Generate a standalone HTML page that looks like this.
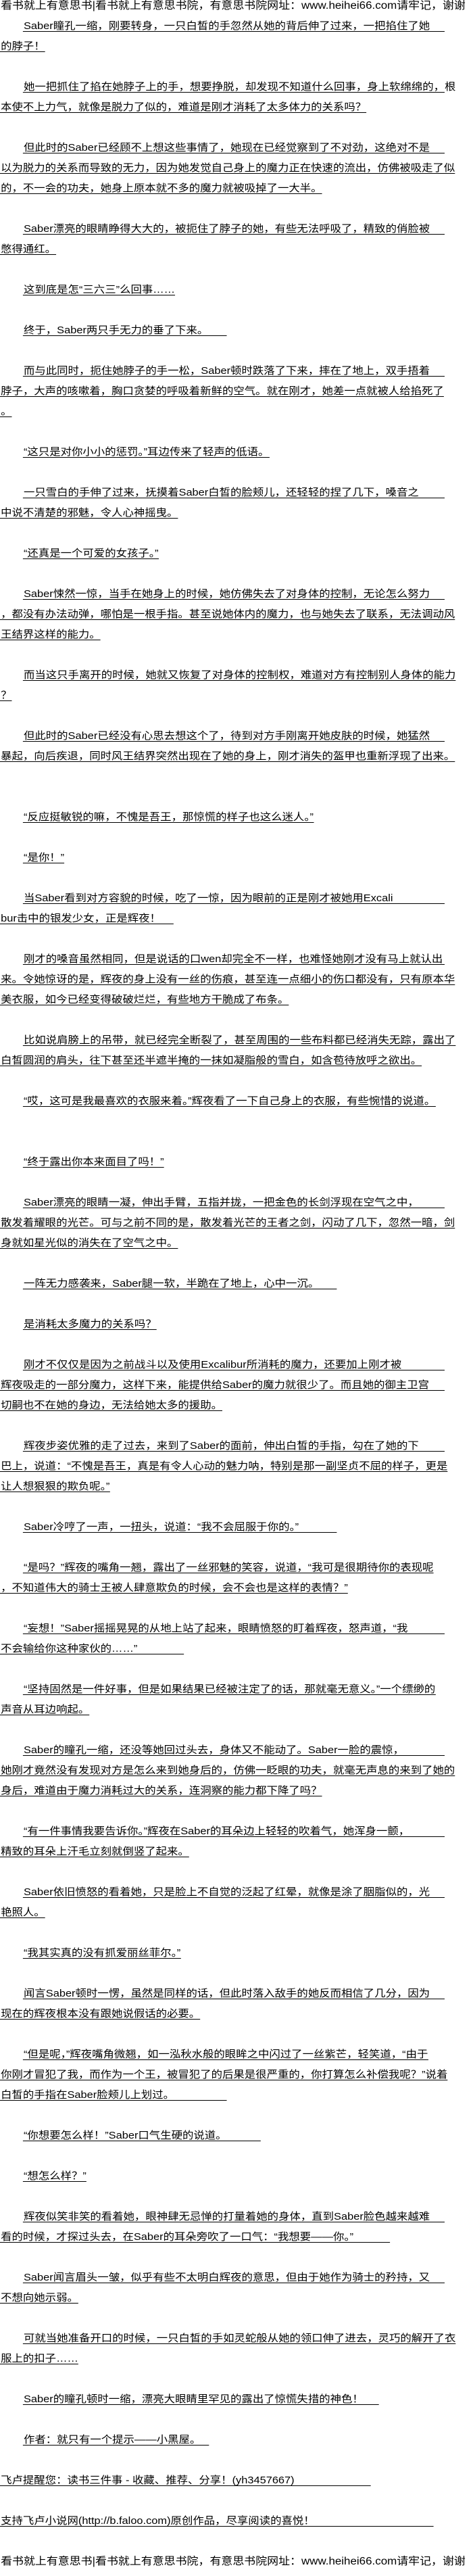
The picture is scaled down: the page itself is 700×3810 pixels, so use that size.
<!DOCTYPE html>
<html><head><meta charset="utf-8"><style>
html,body{margin:0;padding:0;background:#fff;}
body{width:700px;height:3800px;overflow:hidden;position:relative;}
#c{position:absolute;left:0;top:0;width:641px;height:3800px;transform:scaleX(1.093);transform-origin:0 0;
font-family:"Liberation Sans","Noto Sans CJK SC",sans-serif;font-size:15px;color:#000;}
#c div{position:absolute;left:0;white-space:pre;height:30px;}
#c div.i{left:31px;}
#c span{display:inline-block;line-height:15px;border-bottom:1px solid #000;padding-left:1px;overflow:visible;white-space:pre;}
#c div.h span{border-bottom:none;font-size:15.5px;}
.p{width:570px;}
</style></head><body><div id="c">
<div class="h" style="top:0px"><span>看书就上有意思书|看书就上有意思书院，有意思书院网址：www.heihei66.com请牢记，谢谢</span></div>
<div class="i" style="top:30px"><span class="p">Saber瞳孔一缩，刚要转身，一只白皙的手忽然从她的背后伸了过来，一把掐住了她</span></div>
<div style="top:60px"><span>的脖子！</span></div>
<div class="i" style="top:120px"><span class="p">她一把抓住了掐在她脖子上的手，想要挣脱，却发现不知道什么回事，身上软绵绵的，根</span></div>
<div style="top:150px"><span>本使不上力气，就像是脱力了似的，难道是刚才消耗了太多体力的关系吗？</span></div>
<div class="i" style="top:210px"><span class="p">但此时的Saber已经顾不上想这些事情了，她现在已经觉察到了不对劲，这绝对不是</span></div>
<div style="top:240px"><span>以为脱力的关系而导致的无力，因为她发觉自己身上的魔力正在快速的流出，仿佛被吸走了似</span></div>
<div style="top:270px"><span>的，不一会的功夫，她身上原本就不多的魔力就被吸掉了一大半。</span></div>
<div class="i" style="top:330px"><span class="p">Saber漂亮的眼睛睁得大大的，被扼住了脖子的她，有些无法呼吸了，精致的俏脸被</span></div>
<div style="top:360px"><span>憋得通红。</span></div>
<div class="i" style="top:420px"><span>这到底是怎“三六三”么回事……</span></div>
<div class="i" style="top:480px"><span style="width:275px">终于，Saber两只手无力的垂了下来。</span></div>
<div class="i" style="top:540px"><span class="p">而与此同时，扼住她脖子的手一松，Saber顿时跌落了下来，摔在了地上，双手捂着</span></div>
<div style="top:570px"><span>脖子，大声的咳嗽着，胸口贪婪的呼吸着新鲜的空气。就在刚才，她差一点就被人给掐死了</span></div>
<div style="top:600px"><span>。</span></div>
<div class="i" style="top:660px"><span>“这只是对你小小的惩罚。”耳边传来了轻声的低语。</span></div>
<div class="i" style="top:720px"><span class="p">一只雪白的手伸了过来，抚摸着Saber白皙的脸颊儿，还轻轻的捏了几下，嗓音之</span></div>
<div style="top:750px"><span>中说不清楚的邪魅，令人心神摇曳。</span></div>
<div class="i" style="top:810px"><span>“还真是一个可爱的女孩子。”</span></div>
<div class="i" style="top:870px"><span class="p">Saber悚然一惊，当手在她身上的时候，她仿佛失去了对身体的控制，无论怎么努力</span></div>
<div style="top:900px"><span>，都没有办法动弹，哪怕是一根手指。甚至说她体内的魔力，也与她失去了联系，无法调动风</span></div>
<div style="top:930px"><span>王结界这样的能力。</span></div>
<div class="i" style="top:990px"><span>而当这只手离开的时候，她就又恢复了对身体的控制权，难道对方有控制别人身体的能力</span></div>
<div style="top:1020px"><span>？</span></div>
<div class="i" style="top:1080px"><span class="p">但此时的Saber已经没有心思去想这个了，待到对方手刚离开她皮肤的时候，她猛然</span></div>
<div style="top:1110px"><span>暴起，向后疾退，同时风王结界突然出现在了她的身上，刚才消失的盔甲也重新浮现了出来。</span></div>
<div class="i" style="top:1200px"><span>“反应挺敏锐的嘛，不愧是吾王，那惊慌的样子也这么迷人。”</span></div>
<div class="i" style="top:1260px"><span>“是你！”</span></div>
<div class="i" style="top:1320px"><span class="p">当Saber看到对方容貌的时候，吃了一惊，因为眼前的正是刚才被她用Excali</span></div>
<div style="top:1350px"><span style="width:234px">bur击中的银发少女，正是辉夜！</span></div>
<div class="i" style="top:1410px"><span class="p">刚才的嗓音虽然相同，但是说话的口wen却完全不一样，也难怪她刚才没有马上就认出</span></div>
<div style="top:1440px"><span>来。令她惊讶的是，辉夜的身上没有一丝的伤痕，甚至连一点细小的伤口都没有，只有原本华</span></div>
<div style="top:1470px"><span>美衣服，如今已经变得破破烂烂，有些地方干脆成了布条。</span></div>
<div class="i" style="top:1530px"><span>比如说肩膀上的吊带，就已经完全断裂了，甚至周围的一些布料都已经消失无踪，露出了</span></div>
<div style="top:1560px"><span>白皙圆润的肩头，往下甚至还半遮半掩的一抹如凝脂般的雪白，如含苞待放呼之欲出。</span></div>
<div class="i" style="top:1620px"><span>“哎，这可是我最喜欢的衣服来着。”辉夜看了一下自己身上的衣服，有些惋惜的说道。</span></div>
<div class="i" style="top:1710px"><span>“终于露出你本来面目了吗！”</span></div>
<div class="i" style="top:1770px"><span class="p">Saber漂亮的眼睛一凝，伸出手臂，五指并拢，一把金色的长剑浮现在空气之中，</span></div>
<div style="top:1800px"><span>散发着耀眼的光芒。可与之前不同的是，散发着光芒的王者之剑，闪动了几下，忽然一暗，剑</span></div>
<div style="top:1830px"><span>身就如星光似的消失在了空气之中。</span></div>
<div class="i" style="top:1890px"><span style="width:424px">一阵无力感袭来，Saber腿一软，半跪在了地上，心中一沉。</span></div>
<div class="i" style="top:1950px"><span>是消耗太多魔力的关系吗？</span></div>
<div class="i" style="top:2010px"><span class="p">刚才不仅仅是因为之前战斗以及使用Excalibur所消耗的魔力，还要加上刚才被</span></div>
<div style="top:2040px"><span style="width:601px">辉夜吸走的一部分魔力，这样下来，能提供给Saber的魔力就很少了。而且她的御主卫宫</span></div>
<div style="top:2070px"><span>切嗣也不在她的身边，无法给她太多的援助。</span></div>
<div class="i" style="top:2130px"><span class="p">辉夜步姿优雅的走了过去，来到了Saber的面前，伸出白皙的手指，勾在了她的下</span></div>
<div style="top:2160px"><span>巴上，说道：“不愧是吾王，真是有令人心动的魅力呐，特别是那一副坚贞不屈的样子，更是</span></div>
<div style="top:2190px"><span>让人想狠狠的欺负呢。”</span></div>
<div class="i" style="top:2250px"><span style="width:424px">Saber冷哼了一声，一扭头，说道：“我不会屈服于你的。”</span></div>
<div class="i" style="top:2310px"><span>“是吗？”辉夜的嘴角一翘，露出了一丝邪魅的笑容，说道，“我可是很期待你的表现呢</span></div>
<div style="top:2340px"><span>，不知道伟大的骑士王被人肆意欺负的时候，会不会也是这样的表情？”</span></div>
<div class="i" style="top:2400px"><span class="p">“妄想！”Saber摇摇晃晃的从地上站了起来，眼睛愤怒的盯着辉夜，怒声道，“我</span></div>
<div style="top:2430px"><span style="width:248px">不会输给你这种家伙的……”</span></div>
<div class="i" style="top:2490px"><span>“坚持固然是一件好事，但是如果结果已经被注定了的话，那就毫无意义。”一个缥缈的</span></div>
<div style="top:2520px"><span>声音从耳边响起。</span></div>
<div class="i" style="top:2580px"><span class="p">Saber的瞳孔一缩，还没等她回过头去，身体又不能动了。Saber一脸的震惊，</span></div>
<div style="top:2610px"><span>她刚才竟然没有发现对方是怎么来到她身后的，仿佛一眨眼的功夫，就毫无声息的来到了她的</span></div>
<div style="top:2640px"><span>身后，难道由于魔力消耗过大的关系，连洞察的能力都下降了吗？</span></div>
<div class="i" style="top:2700px"><span class="p">“有一件事情我要告诉你。”辉夜在Saber的耳朵边上轻轻的吹着气，她浑身一颤，</span></div>
<div style="top:2730px"><span>精致的耳朵上汗毛立刻就倒竖了起来。</span></div>
<div class="i" style="top:2790px"><span class="p">Saber依旧愤怒的看着她，只是脸上不自觉的泛起了红晕，就像是涂了胭脂似的，光</span></div>
<div style="top:2820px"><span>艳照人。</span></div>
<div class="i" style="top:2880px"><span>“我其实真的没有抓爱丽丝菲尔。”</span></div>
<div class="i" style="top:2940px"><span class="p">闻言Saber顿时一愣，虽然是同样的话，但此时落入敌手的她反而相信了几分，因为</span></div>
<div style="top:2970px"><span>现在的辉夜根本没有跟她说假话的必要。</span></div>
<div class="i" style="top:3030px"><span>“但是呢，”辉夜嘴角微翘，如一泓秋水般的眼眸之中闪过了一丝紫芒，轻笑道，“由于</span></div>
<div style="top:3060px"><span>你刚才冒犯了我，而作为一个王，被冒犯了的后果是很严重的，你打算怎么补偿我呢？”说着</span></div>
<div style="top:3090px"><span style="width:306px">白皙的手指在Saber脸颊儿上划过。</span></div>
<div class="i" style="top:3150px"><span style="width:321px">“你想要怎么样！”Saber口气生硬的说道。</span></div>
<div class="i" style="top:3210px"><span>“想怎么样？”</span></div>
<div class="i" style="top:3270px"><span class="p">辉夜似笑非笑的看着她，眼神肆无忌惮的打量着她的身体，直到Saber脸色越来越难</span></div>
<div style="top:3300px"><span style="width:527px">看的时候，才探过头去，在Saber的耳朵旁吹了一口气：“我想要——你。”</span></div>
<div class="i" style="top:3360px"><span class="p">Saber闻言眉头一皱，似乎有些不太明白辉夜的意思，但由于她作为骑士的矜持，又</span></div>
<div style="top:3390px"><span>不想向她示弱。</span></div>
<div class="i" style="top:3450px"><span>可就当她准备开口的时候，一只白皙的手如灵蛇般从她的领口伸了进去，灵巧的解开了衣</span></div>
<div style="top:3480px"><span>服上的扣子……</span></div>
<div class="i" style="top:3540px"><span style="width:481px">Saber的瞳孔顿时一缩，漂亮大眼睛里罕见的露出了惊慌失措的神色！</span></div>
<div class="i" style="top:3600px"><span style="width:251px">作者：就只有一个提示——小黑屋。</span></div>
<div style="top:3660px"><span style="width:501px">飞卢提醒您：读书三件事 - 收藏、推荐、分享！(yh3457667)</span></div>
<div style="top:3720px"><span style="width:586px">支持飞卢小说网(http://b.faloo.com)原创作品，尽享阅读的喜悦！</span></div>
<div class="h" style="top:3780px"><span>看书就上有意思书|看书就上有意思书院，有意思书院网址：www.heihei66.com请牢记，谢谢</span></div>
</div></body></html>
